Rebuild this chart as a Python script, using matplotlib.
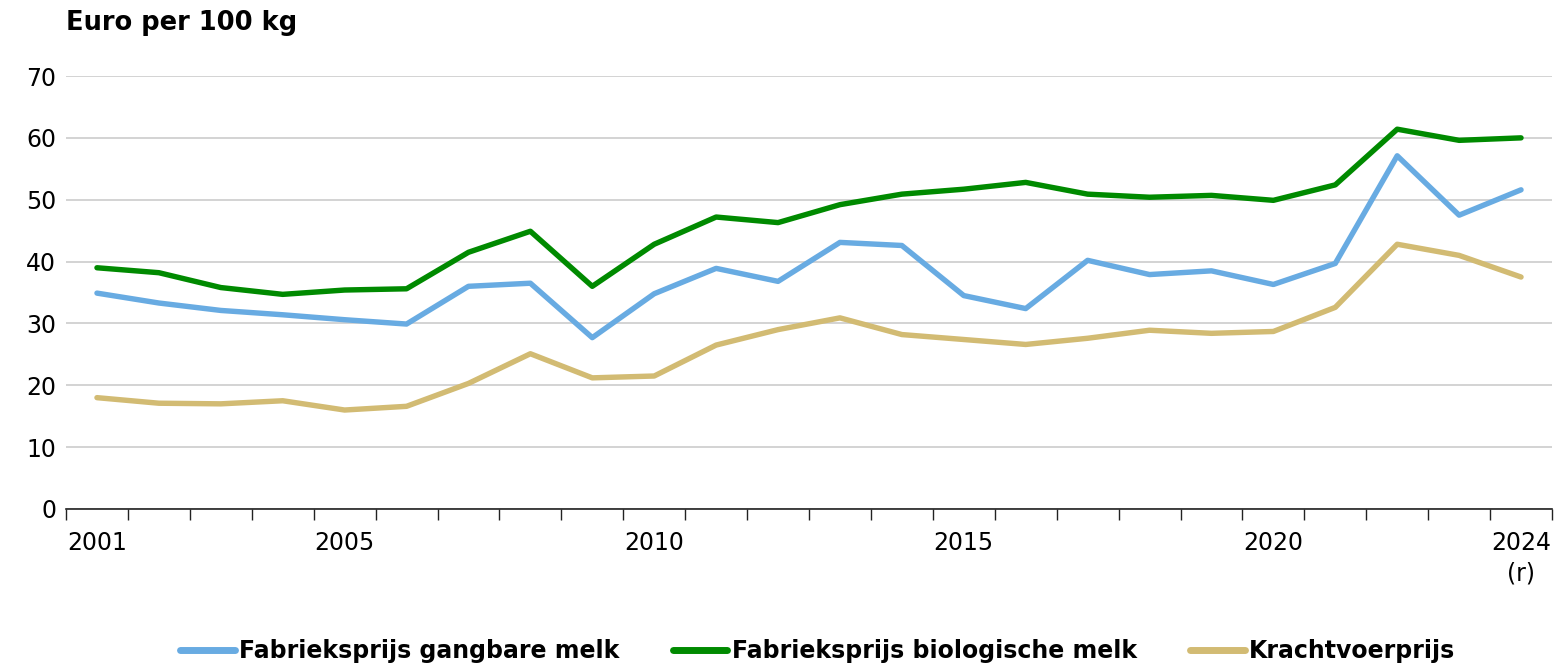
import matplotlib
matplotlib.use("Agg")
import matplotlib.pyplot as plt
from matplotlib.ticker import FixedLocator

years = list(range(2001, 2025))

gangbaar = [34.9, 33.3, 32.1, 31.4, 30.6, 29.9, 36.0, 36.5, 27.7, 34.8,
            38.9, 36.8, 43.1, 42.6, 34.5, 32.4, 40.2, 37.9, 38.5, 36.3,
            39.7, 57.1, 47.5, 51.6]
biologisch = [39.0, 38.2, 35.8, 34.7, 35.4, 35.6, 41.5, 44.9, 36.0, 42.8,
              47.2, 46.3, 49.2, 50.9, 51.7, 52.8, 50.9, 50.4, 50.7, 49.9,
              52.4, 61.4, 59.6, 60.0]
krachtvoer = [18.0, 17.1, 17.0, 17.5, 16.0, 16.6, 20.3, 25.1, 21.2, 21.5,
              26.5, 29.0, 30.9, 28.2, 27.4, 26.6, 27.6, 28.9, 28.4, 28.7,
              32.6, 42.8, 41.0, 37.5]

labelled = {2001: "2001", 2005: "2005", 2010: "2010", 2015: "2015",
            2020: "2020", 2024: "2024\n(r)"}

series = [
    ("Fabrieksprijs gangbare melk", gangbaar, "#68abe2"),
    ("Fabrieksprijs biologische melk", biologisch, "#008a00"),
    ("Krachtvoerprijs", krachtvoer, "#d2bb73"),
]

plt.rcParams['font.family'] = ['DejaVu Sans']
fs = 17

fig = plt.figure(figsize=(15.56, 6.65), dpi=100)
ax = fig.add_axes([66 / 1556, 1 - 509 / 665, 1486 / 1556, 433 / 665])

x = list(range(len(years)))
for name, vals, col in series:
    ax.plot(x, vals, color=col, lw=3.9, label=name, solid_capstyle='round')

ax.set_xlim(-0.5, len(years) - 0.5)
ax.set_ylim(0, 70)
ax.set_yticks(range(0, 71, 10))
ax.grid(axis='y', color='#cccccc', lw=1.2)
ax.set_axisbelow(True)

ax.xaxis.set_minor_locator(FixedLocator([i - 0.5 for i in range(len(years) + 1)]))
pos = [years.index(y) for y in labelled]
ax.set_xticks(pos)
ax.set_xticklabels(list(labelled.values()), linespacing=1.35)
ax.tick_params(axis='x', which='major', length=0, pad=16, labelsize=fs)
ax.tick_params(axis='x', which='minor', length=8, width=1, color='#222222', direction='out')
ax.tick_params(axis='y', length=0, pad=7, labelsize=fs)

for s in ['left', 'right', 'top']:
    ax.spines[s].set_visible(False)
ax.spines['bottom'].set_color('#222222')
ax.spines['bottom'].set_linewidth(1.2)

fig.text(66 / 1556, 1 - 23 / 665, "Euro per 100 kg", fontsize=18.5, fontweight='bold',
         ha='left', va='center')

leg = fig.legend(loc='center', bbox_to_anchor=(818 / 1556, 1 - 651 / 665), ncol=3,
                 frameon=False, handlelength=2.3, handletextpad=0.2,
                 columnspacing=2.25, prop={'size': fs, 'weight': 'bold'})
for h in leg.get_lines():
    h.set_linewidth(5)

fig.savefig("out.png", dpi=100)
